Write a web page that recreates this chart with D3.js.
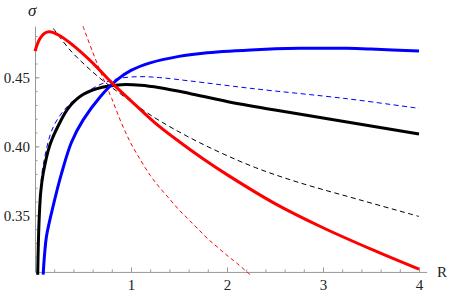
<!DOCTYPE html>
<html lang="en">
<head>
<meta charset="UTF-8">
<title>sigma vs R</title>
<style>
  *{margin:0;padding:0;}
  body{background:#fff;}
  #container{width:450px;height:294px;}
</style>
</head>
<body>
<div id="container"></div>
<script src="https://cdn.jsdelivr.net/npm/d3@7"></script>
<script>
// curves: R values and sigma values
var blackR   = [0.028,0.035,0.045,0.06,0.087,0.155,0.25,0.35,0.5,0.7,0.9,1.1,1.3,1.6,2.0,2.5,3.0,3.5,4.0]
var blackS   = [0.307,0.33,0.35,0.367,0.381,0.401,0.416,0.428,0.4375,0.4428,0.4447,0.4443,0.4425,0.4385,0.4325,0.4263,0.4205,0.4148,0.409]
var blueR    = [0.085,0.1,0.12,0.19,0.275,0.38,0.5,0.68,0.85,1.0,1.2,1.5,1.75,2.25,2.75,3.25,3.5,4.0]
var blueS    = [0.307,0.322,0.335,0.357,0.380,0.403,0.419,0.436,0.448,0.455,0.4605,0.4652,0.4675,0.4698,0.471,0.471,0.4705,0.469]
var redR     = [0,0.05,0.1,0.15,0.25,0.4,0.6,0.8,1.0,1.25,1.5,1.75,2.0,2.5,3.0,3.5,4.0]
var redS     = [0.469,0.478,0.482,0.483,0.4805,0.473,0.4605,0.446,0.433,0.417,0.4035,0.391,0.3795,0.3585,0.341,0.3255,0.311]
var blueDR   = [0.028,0.035,0.045,0.06,0.087,0.19,0.365,0.54,0.71,0.885,1.09,1.3,1.6,2.25,3.25,4.0]
var blueDS   = [0.307,0.335,0.355,0.372,0.387,0.414,0.431,0.4396,0.4457,0.4493,0.4505,0.4498,0.4475,0.442,0.4345,0.4275]
var blackDR  = [0.19,0.365,0.54,0.71,0.9,1.23,1.58,1.93,2.3,2.73,3.42,4.0]
var blackDS  = [0.4855,0.4698,0.4577,0.4475,0.4375,0.4215,0.4075,0.3955,0.3845,0.3742,0.3605,0.3492]
var redDR    = [0.5,0.6,0.7,0.8,0.9,1.0,1.1,1.2,1.3,1.4,1.5,1.6,1.7,1.8,1.9,2.0,2.1,2.24]
var redDS    = [0.487,0.4685,0.451,0.4345,0.417,0.402,0.390,0.379,0.370,0.362,0.354,0.347,0.340,0.333,0.327,0.321,0.3155,0.307]

var xTicks = [1,2,3,4]
var yTicks = [0.35,0.40,0.45]

var W = 450, H = 294
var serif = '"Liberation Serif","Times New Roman","DejaVu Serif",serif'
var svg = d3.select('#container').append('svg').attr('width', W).attr('height', H)

var x = d3.scaleLinear().domain([0, 4]).range([35, 419])
var y = d3.scaleLinear().domain([0.3075, 0.4872]).range([274, 26])
var yAxisAt = 0.309

svg.append('clipPath').attr('id', 'clip')
  .append('rect').attr('x', 33).attr('y', 26).attr('width', 400).attr('height', 249)

// axes (ticks point inward like mathematica)
var xMinor = d3.range(1, 21).map(function(i){return i*0.2})
var yMinor = d3.range(31, 49).map(function(i){return i/100})

var gx = svg.append('g').attr('transform', `translate(0,${y(yAxisAt)})`)
gx.call(d3.axisBottom(d3.scaleLinear().domain([0, 4.08]).range([35, x(4.08)]))
  .tickValues(xMinor).tickSizeInner(-2.5).tickSizeOuter(0).tickFormat(''))
var gxMaj = gx.append('g').call(d3.axisBottom(x).tickValues(xTicks).tickSizeInner(-4.5).tickSizeOuter(0)
  .tickPadding(6).tickFormat(d3.format('d')))
gxMaj.select('.domain').remove()
gx.selectAll('text').attr('dy', '0.8em')

var gy = svg.append('g').attr('transform', 'translate(35,0)')
gy.call(d3.axisLeft(d3.scaleLinear().domain([yAxisAt, 0.4872]).range([y(yAxisAt), y(0.4872)]))
  .tickValues(yMinor).tickSizeInner(-2.5).tickSizeOuter(0).tickFormat(''))
var gyMaj = gy.append('g').call(d3.axisLeft(y).tickValues(yTicks).tickSizeInner(-4.5).tickSizeOuter(0)
  .tickPadding(5).tickFormat(d3.format('.2f')))
gyMaj.select('.domain').remove()

svg.selectAll('.domain').attr('stroke', '#999')
svg.selectAll('.tick line').attr('stroke', '#999')
svg.selectAll('.tick text').style('font-family', serif).style('font-size', '15px').style('fill', '#222')

svg.append('text').text('R').attr('x', 437).attr('y', y(yAxisAt)).attr('dy', '0.35em')
  .style('font-family', serif).style('font-size', '15px').style('fill', '#222')
svg.append('text').text('σ').attr('x', 28).attr('y', 16)
  .style('font-family', serif).style('font-style', 'italic')
  .style('font-size', '17px').style('fill', '#222')

// curves
var line = d3.line().x(function(d){return x(d[0])}).y(function(d){return y(d[1])}).curve(d3.curveCatmullRom.alpha(0.5))
function pts(a, b){return a.map(function(v, i){return [v, b[i]]})}

var plot = svg.append('g').attr('clip-path', 'url(#clip)')
var curves = [
  {d: pts(redDR, redDS), c: '#ff0000', w: 1, dash: '4,3'},
  {d: pts(blackDR, blackDS), c: '#000', w: 1, dash: '5,3.5'},
  {d: pts(blueDR, blueDS), c: '#0000ff', w: 1, dash: '5,3.5'},
  {d: pts(blackR, blackS), c: '#000', w: 3},
  {d: pts(blueR, blueS), c: '#0000ff', w: 3},
  {d: pts(redR, redS), c: '#ff0000', w: 3}
]
curves.forEach(function(s){
  plot.append('path').attr('d', line(s.d))
    .attr('fill', 'none').attr('stroke', s.c).attr('stroke-width', s.w)
    .attr('stroke-dasharray', s.dash || null)
})
</script>
</body>
</html>
